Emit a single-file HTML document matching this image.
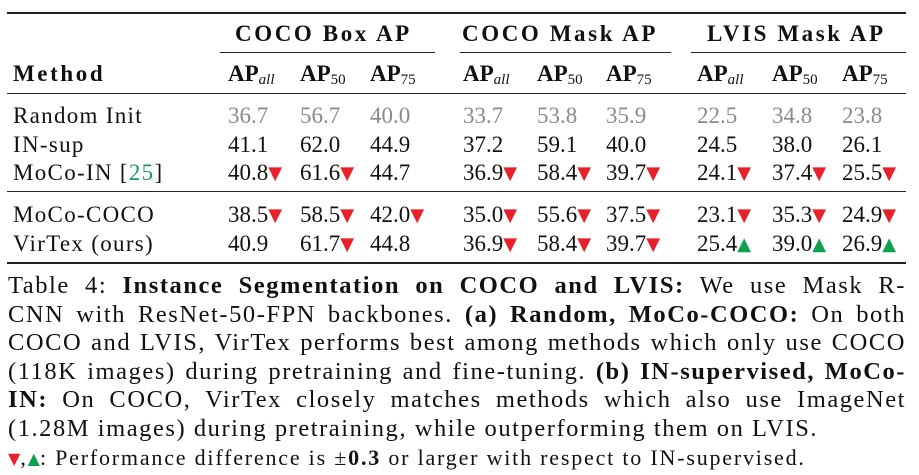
<!DOCTYPE html>
<html><head><meta charset="utf-8">
<style>
body{margin:0;width:919px;height:475px;background:#fff;position:relative;overflow:hidden;font-family:"Liberation Serif",serif;color:#111;}
.a{position:absolute;white-space:nowrap;line-height:1;}
.t{font-size:23px;}
.h{font-weight:bold;font-size:23px;}
.ls{letter-spacing:2.6px;}
.m{letter-spacing:1.3px;}
.rule{position:absolute;background:#222;}
.g{color:#8a8a8a;}
.dn{color:#e8202a;font-size:18px;font-family:"DejaVu Sans",sans-serif;vertical-align:1px;letter-spacing:0;}
.up{color:#10a050;font-size:18px;font-family:"DejaVu Sans",sans-serif;vertical-align:1px;letter-spacing:0;}
sub{font-size:15px;vertical-align:-3px;font-weight:normal;letter-spacing:0;}
sub.i{font-style:italic;}
.cap{position:absolute;left:8px;width:898px;font-size:24.5px;line-height:28.6px;letter-spacing:1.55px;}
.cap div{text-align:justify;text-align-last:justify;white-space:nowrap;height:28.6px;}
.cap div.l{text-align-last:left;}
.cap .dn,.cap .up{font-size:16px;}
</style></head><body>
<div>
<div class="rule" style="left:7px;top:12px;width:899px;height:2px"></div>
<div class="a h ls" style="left:235px;top:22px">COCO Box AP</div>
<div class="a h ls" style="left:462px;top:22px">COCO Mask AP</div>
<div class="a h ls" style="left:707px;top:22px">LVIS Mask AP</div>
<div class="rule" style="left:220px;top:52px;width:215px;height:1px"></div>
<div class="rule" style="left:460px;top:52px;width:211px;height:1px"></div>
<div class="rule" style="left:691px;top:52px;width:215px;height:1px"></div>
<div class="a h ls" style="left:13px;top:62px">Method</div>
<div id="subh"></div>
<div class="rule" style="left:7px;top:93px;width:899px;height:1px"></div>
<div class="rule" style="left:7px;top:191px;width:899px;height:1px"></div>
<div class="rule" style="left:7px;top:262px;width:899px;height:2px"></div>
<div id="body"></div>
</div>
<div class="cap" style="top:272px">
<div>Table 4: <b>Instance Segmentation on COCO and LVIS:</b> We use Mask R-</div>
<div>CNN with ResNet-50-FPN backbones. <b>(a) Random, MoCo-COCO:</b> On both</div>
<div>COCO and LVIS, VirTex performs best among methods which only use COCO</div>
<div>(118K images) during pretraining and fine-tuning. <b>(b) IN-supervised, MoCo-</b></div>
<div><b>IN:</b> On COCO, VirTex closely matches methods which also use ImageNet</div>
<div class="l">(1.28M images) during pretraining, while outperforming them on LVIS.</div>
<div class="l" style="font-size:22px;letter-spacing:1.8px"><span class="dn">▼</span>,<span class="up">▲</span>: Performance difference is ±<b>0.3</b> or larger with respect to IN-supervised.</div>
</div>
<script>
const methods=["Random Init","IN-sup","MoCo-IN","MoCo-COCO","VirTex (ours)"];
const values=[
["36.7","56.7","40.0","33.7","53.8","35.9","22.5","34.8","23.8"],
["41.1","62.0","44.9","37.2","59.1","40.0","24.5","38.0","26.1"],
["40.8","61.6","44.7","36.9","58.4","39.7","24.1","37.4","25.5"],
["38.5","58.5","42.0","35.0","55.6","37.5","23.1","35.3","24.9"],
["40.9","61.7","44.8","36.9","58.4","39.7","25.4","39.0","26.9"]];
const marks=[
["","","","","","","","",""],
["","","","","","","","",""],
["d","d","","d","d","d","d","d","d"],
["d","d","d","d","d","d","d","d","d"],
["","d","","d","d","d","u","u","u"]];
const colX=[228,300,370,463,537,606,697,772,842];
const rowY=[104,133,161,203,232];
const subs=[["all","i"],["50",""],["75",""]];
const sh=document.getElementById('subh');
colX.forEach((x,i)=>{
  const s=document.createElement('div');
  s.className='a h';
  s.style.left=x+'px';s.style.top='62px';
  s.innerHTML='AP<sub class="'+subs[i%3][1]+'">'+subs[i%3][0]+'</sub>';
  
  
  sh.appendChild(s);
});
const b=document.getElementById('body');
methods.forEach((m,r)=>{
  const d=document.createElement('div');
  d.className='a t m';
  d.style.left='13px';d.style.top=rowY[r]+'px';
  d.innerHTML=m==="MoCo-IN"?'MoCo-IN [<span style="color:#1a9a5a">25</span>]':m;
  
  
  b.appendChild(d);
  values[r].forEach((v,c)=>{
    const e=document.createElement('div');
    e.className='a t'+(r===0?' g':'');
    e.style.left=colX[c]+'px';e.style.top=rowY[r]+'px';
    let h=v;
    if(marks[r][c]==='d')h+='<span class="dn">▼</span>';
    if(marks[r][c]==='u')h+='<span class="up">▲</span>';
    e.innerHTML=h;
    
    
    b.appendChild(e);
  });
});
</script>
</body></html>
